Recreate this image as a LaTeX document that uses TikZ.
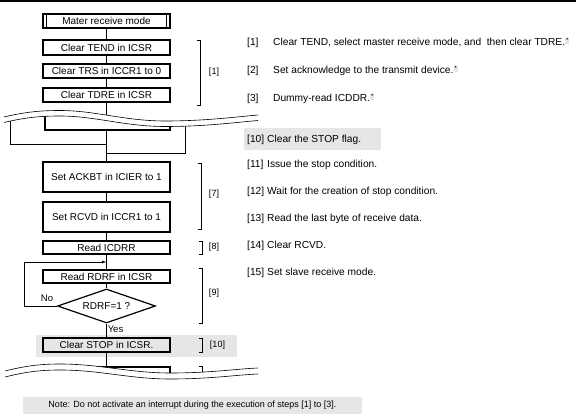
\documentclass[tikz,border=0pt]{standalone}
\usepackage{fontspec}
\setmainfont{Liberation Sans}
\usetikzlibrary{arrows.meta,calc,shapes.geometric}
\definecolor{hl}{RGB}{230,230,230}
\newcommand\gstar{\raisebox{2.5pt}{\fboxsep=0.9pt\colorbox{hl}{\fontsize{6.5}{6.5}\selectfont *}}}
\begin{document}
\begin{tikzpicture}[x=1pt,y=-1pt,
  font=\fontsize{10}{12}\selectfont,
  box/.style={draw, line width=1.2pt, minimum width=127pt, minimum height=14pt, inner sep=0pt},
  tallbox/.style={box, minimum height=30pt},
  dbox/.style={box, path picture={
     \draw[line width=0.8pt] ([xshift=3.5pt]path picture bounding box.north west) -- ([xshift=3.5pt]path picture bounding box.south west);
     \draw[line width=0.8pt] ([xshift=-3.5pt]path picture bounding box.north east) -- ([xshift=-3.5pt]path picture bounding box.south east);}},
  dec/.style={draw, diamond, line width=1.2pt, minimum width=98pt, minimum height=34pt, inner sep=0pt, aspect=2.9},
  conn/.style={line width=0.6pt},
  brk/.style={line width=0.6pt},
  lbl/.style={inner sep=0pt, font=\fontsize{9}{11}\selectfont},
  rt/.style={inner sep=0pt, anchor=base west, font=\fontsize{10.2}{12}\selectfont}
]
\useasboundingbox (0,0) rectangle (576,414);
\fill[black] (0,0) rectangle (576,2.5);

% highlight bands
\fill[hl] (36,335) rectangle (237,357);
\fill[hl] (244,128) rectangle (381,150);
\fill[hl] (23,397) rectangle (362,414);

% boxes
\node[dbox] (mater) at (106.5,21) {Mater receive mode};
\node[box, minimum height=15pt] (tend) at (106.5,47.5) {Clear TEND in ICSR};
\node[box] (trs) at (106.5,71) {Clear TRS in ICCR1 to 0};
\node[box] (tdre) at (106.5,95) {Clear TDRE in ICSR};
\node[tallbox] (ackbt) at (106.5,177) {Set ACKBT in ICIER to 1};
\node[tallbox] (rcvd) at (106.5,217) {Set RCVD in ICCR1 to 1};
\node[box, minimum height=13pt] (icdrr) at (106.5,247.5) {Read ICDRR};
\node[box, minimum height=13pt] (rdrf) at (106.5,276.5) {Read RDRF in ICSR};
\node[dec] (dia) at (106.5,306) {RDRF=1 ?};
\node[box] (stop) at (106.5,345) {Clear STOP in ICSR.};

% coordinates for free ends
\coordinate (tbot) at (106.5,117);
\coordinate (mergeA) at (106.5,144);
\coordinate (mergeB) at (106.5,153);
\coordinate (sbot) at (106.5,370);
\coordinate (loopx) at (24,306);
\coordinate (loopin) at (106.5,262);

% connectors
\draw[conn] (mater) -- (tend);
\draw[conn] (tend) -- (trs);
\draw[conn] (trs) -- (tdre);
\draw[conn] (tdre) -- (tbot);
\draw[line width=1.2pt] (45,113.5) -- (45,130) -- (170,130) -- (170,124);
\draw[conn] (106.5,130) -- (ackbt.north);
\draw[conn] (10,118) -- (10,144) -- (mergeA);
\draw[conn] (185,123) -- (185,153) -- (mergeB);
\draw[conn] (ackbt) -- (rcvd);
\draw[conn] (rcvd) -- (icdrr);
\draw[conn] (icdrr) -- (rdrf);
\draw[conn] (rdrf) -- (dia);
\draw[conn] (dia) -- (stop);
\draw[conn] (stop) -- (sbot);
\draw[conn, -{Latex[length=4.5pt,width=3pt]}] (dia.west) -- (loopx) |- (loopin);
\draw[line width=1.2pt] (45,367) -- (170,367) -- (170,378);

\node[lbl, font=\fontsize{9.5}{11}\selectfont] at (47,298.5) {No};
\node[lbl, font=\fontsize{9.5}{11}\selectfont] at (115.5,329.5) {Yes};

% brackets
\draw[brk] (196.5,40) -- (200,40) -- (200,105) -- (196.5,105);
\node[lbl] at (214,72) {[1]};
\draw[brk] (197.5,163) -- (201,163) -- (201,229) -- (197.5,229);
\node[lbl] at (214,194) {[7]};
\draw[brk] (198.5,241) -- (202,241) -- (202,254) -- (198.5,254);
\node[lbl] at (214,247) {[8]};
\draw[brk] (198.5,268) -- (202,268) -- (202,323) -- (198.5,323);
\node[lbl] at (214,293) {[9]};
\draw[brk] (198.5,338) -- (202,338) -- (202,352) -- (198.5,352);
\node[lbl] at (217.5,345) {[10]};
\draw[brk] (198.5,366) -- (202,366) -- (202,375);

% top break
\fill[white] (4,117) .. controls (25,112) and (40,110.5) .. (60,110.5) .. controls (95,110.5) and (125,121) .. (165,121) .. controls (205,121) and (235,117) .. (258,115)
  -- (258,120.5) .. controls (235,122.5) and (205,126.5) .. (165,126.5) .. controls (125,126.5) and (95,116) .. (60,116) .. controls (40,116) and (25,117.5) .. (4,122.5) -- cycle;
\draw[brk] (4,117) .. controls (25,112) and (40,110.5) .. (60,110.5) .. controls (95,110.5) and (125,121) .. (165,121) .. controls (205,121) and (235,117) .. (258,115);
\draw[brk] (4,122.5) .. controls (25,117.5) and (40,116) .. (60,116) .. controls (95,116) and (125,126.5) .. (165,126.5) .. controls (205,126.5) and (235,122.5) .. (258,120.5);

% bottom break
\fill[white] (5,371) .. controls (25,366) and (40,364) .. (60,364) .. controls (100,364) and (130,373) .. (170,373) .. controls (210,373) and (235,369) .. (258,368)
  -- (258,374) .. controls (235,375) and (210,379) .. (170,379) .. controls (130,379) and (100,370) .. (60,370) .. controls (40,370) and (25,372) .. (5,377) -- cycle;
\draw[brk] (5,371) .. controls (25,366) and (40,364) .. (60,364) .. controls (100,364) and (130,373) .. (170,373) .. controls (210,373) and (235,369) .. (258,368);
\draw[brk] (5,377) .. controls (25,372) and (40,370) .. (60,370) .. controls (100,370) and (130,379) .. (170,379) .. controls (210,379) and (235,375) .. (258,374);

% right-hand notes
\node[rt] at (247,45.5) {[1]};
\node[rt] at (273,45.5) {Clear TEND, select master receive mode, and\ \ then clear TDRE.\gstar};
\node[rt] at (247,73.5) {[2]};
\node[rt] at (273,73.5) {Set acknowledge to the transmit device.\gstar};
\node[rt] at (247,101.5) {[3]};
\node[rt] at (273,101.5) {Dummy-read ICDDR.\gstar};
\node[rt] at (247,142.5) {[10]};
\node[rt] at (267,142.5) {Clear the STOP flag.};
\node[rt] at (247,167.5) {[11]};
\node[rt] at (267,167.5) {Issue the stop condition.};
\node[rt] at (247,194.5) {[12]};
\node[rt] at (267,194.5) {Wait for the creation of stop condition.};
\node[rt] at (247,221.5) {[13]};
\node[rt] at (267,221.5) {Read the last byte of receive data.};
\node[rt] at (247,248.5) {[14]};
\node[rt] at (267,248.5) {Clear RCVD.};
\node[rt] at (247,275.5) {[15]};
\node[rt] at (267,275.5) {Set slave receive mode.};

\node[inner sep=0pt, font=\fontsize{9}{11}\selectfont] (note) at (192.5,405.5) {Note: Do not activate an interrupt during the execution of steps [1] to [3].};
\end{tikzpicture}
\end{document}
